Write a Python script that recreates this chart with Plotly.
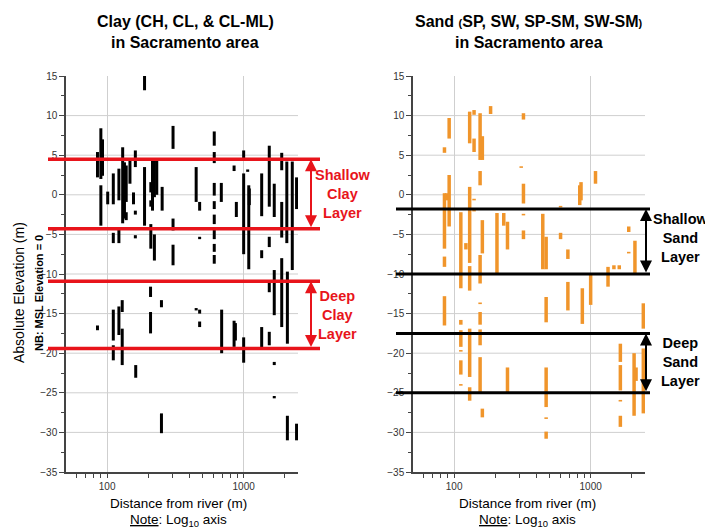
import math
import plotly.graph_objects as go

# ---------------- data ----------------
# Clay borehole intervals: distance from river (m), top / bottom elevation (m)
clay_x = [85, 85, 90, 90, 92.5, 101, 111, 111, 111, 111, 122, 122, 122, 130, 129, 129,
          134, 138, 138, 147, 156, 161, 161, 161, 162, 188, 188, 209, 209, 209, 208, 208,
          215, 222, 222, 231, 253, 250, 250, 304, 304, 304, 449, 476, 449, 476, 476, 476,
          609, 609, 609, 609, 609, 609, 609, 609,
          686, 690, 851, 884, 851, 870, 1000, 1000, 1000, 1090, 1100, 1070, 1355, 1355, 1355,
          1540, 1540, 1540, 1540, 1675, 1675, 1675, 1675, 1900, 1900, 1900, 2070, 2090, 2090,
          2270, 2440, 2440]
clay_top = [5.4, -16.5, 8.4, 1.2, 7.0, 0.4, 2.7, -4.8, -14.5, -19.0, 3.3, -4.3, -14.1, 6.0, -13.3, -16.9,
            4.1, 3.7, -2.2, 4.3, 0.3, 5.6, -2.0, -5.1, -21.5, 15.3, 3.5, 1.6, -0.7, -3.7, -11.6, -14.8,
            4.3, 4.3, -5.0, 4.3, 1.0, -13.3, -27.6, 8.7, -3.0, -6.3, 3.5, -0.9, -14.3, -14.5, -16.0, -5.3,
            8.0, 5.4, 1.5, -0.8, -2.5, -4.4, -6.2, -7.6,
            1.5, -14.5, 3.7, -0.9, -15.9, -16.2, 5.6, 2.7, -18.0, 1.2, 0.8, 3.2, 2.7, -7.0, -16.7,
            6.2, -5.3, -10.8, -17.3, 1.4, -9.5, -21.1, -25.4, 5.3, -0.9, -8.0, 4.2, -9.7, -27.9,
            4.2, 2.2, -28.9]
clay_bottom = [2.2, -17.1, 2.0, -3.9, 2.4, -1.2, -1.2, -6.1, -18.4, -20.9, -0.7, -6.1, -17.7, -3.6, -14.8, -21.5,
               -3.0, -0.9, -3.2, 1.4, -1.2, 3.5, -2.5, -5.5, -23.1, 13.2, -3.9, 0.3, -1.5, -6.8, -12.9, -17.5,
               -2.0, -0.3, -8.3, 0.0, -2.0, -14.2, -30.1, 5.8, -4.5, -8.9, -0.9, -2.0, -14.6, -15.0, -16.7, -5.6,
               6.2, 4.0, -0.1, -1.8, -3.7, -5.6, -7.2, -8.7,
               -0.9, -20.0, 3.0, -2.8, -19.2, -18.4, 4.5, -7.5, -21.2, -9.4, -1.3, 2.9, -2.7, -8.0, -19.6,
               -1.5, -6.6, -12.3, -19.0, -2.8, -15.2, -21.5, -25.7, 3.1, -5.4, -16.7, -6.1, -18.8, -31.0,
               -9.5, -1.8, -31.0]

# Sand borehole intervals
sand_x = [85, 85, 85, 85, 88, 92, 92, 112, 112, 112, 112, 112, 112, 122, 130, 130, 130, 130, 130,
          140, 140, 140, 140, 155, 155, 155, 155, 155, 155, 155, 161, 161, 161, 185, 206, 231, 246, 246,
          310, 322, 322, 322, 322, 446, 472, 472, 472, 472, 472, 602, 602, 681, 681, 832, 850, 869,
          1000, 1085, 1340, 1480, 1620, 1650, 1650, 1650, 1650, 1900, 1900, 2110, 2080, 2150, 2430, 2430]
sand_top = [6.0, 0.2, -7.8, -12.8, 0.2, 9.7, 2.5, -2.2, -15.8, -17.1, -19.6, -20.9, -23.9, -6.1, 10.5, 1.0, -9.0, -16.9, -24.3,
            10.7, 7.1, -0.5, -1.9, 10.3, 3.0, -7.6, -13.6, -14.8, -17.0, -20.5, 7.4, -3.2, -27.0, 11.2, -2.3, -2.3, -3.4, -21.8,
            3.6, 10.3, 1.4, -2.4, -4.5, -2.4, -5.3, -12.9, -21.8, -28.1, -29.9, -1.4, -4.8, -6.9, -11.0, 1.2, 1.6, -11.8,
            -10.1, 3.0, -9.1, -8.9, -8.9, -18.8, -21.5, -25.9, -27.9, -4.0, -7.2, -5.8, -20.0, -21.8, -13.7, -19.4]
sand_bottom = [5.3, -6.8, -9.1, -16.5, -0.7, 7.1, -4.0, -11.8, -16.4, -19.2, -19.8, -22.7, -24.1, -6.9, 6.5, -8.6, -12.1, -23.0, -26.0,
               10.1, 5.4, -0.7, -2.1, 4.4, 1.2, -11.2, -13.8, -16.4, -19.0, -25.1, 4.4, -7.4, -28.1, 10.2, -10.0, -3.9, -6.9, -25.1,
               3.4, 9.5, -1.1, -2.6, -5.6, -9.4, -9.4, -16.1, -26.8, -28.3, -30.8, -1.6, -5.6, -8.1, -14.6, -1.3, -0.7, -16.3,
               -13.9, 1.4, -11.6, -9.4, -9.4, -21.1, -24.7, -26.1, -29.3, -4.7, -7.4, -9.9, -27.9, -23.5, -16.9, -27.6]

# layer boundaries (elevation, m)
clay_shallow = [4.5, -4.3]
clay_deep = [-10.9, -19.4]
sand_shallow = [-1.8, -10.0]
sand_deep = [-17.5, -25.0]

y_ticks = [-35, -30, -25, -20, -15, -10, -5, 0, 5, 10, 15]
y_grid = [-30, -25, -20, -15, -10, -5, 0, 5, 10]
y_minor = [-32.5, -27.5, -22.5, -17.5, -12.5, -7.5, -2.5, 2.5, 7.5, 12.5]
x_ticks = [100, 1000]
x_minor = [60, 70, 80, 90, 200, 300, 400, 500, 600, 700, 800, 900, 2000]

# ---------------- style ----------------
W, H = 705, 528
FONT = "Arial, Liberation Sans, sans-serif"
RED = "#E8141B"
ORANGE = "#F0952B"
AXC = "#444444"


def px(x):
    return x / W


def py(y):
    return 1 - y / H


def segments(xs, tops, bots):
    X, Y = [], []
    for x, t, b in zip(xs, tops, bots):
        X += [x, x, None]
        Y += [t, b, None]
    return X, Y


fig = go.Figure()
cx, cy = segments(clay_x, clay_top, clay_bottom)
sx, sy = segments(sand_x, sand_top, sand_bottom)
fig.add_trace(go.Scatter(x=cx, y=cy, mode="lines", line=dict(color="black", width=3),
                         xaxis="x", yaxis="y", showlegend=False, hoverinfo="skip"))
fig.add_trace(go.Scatter(x=sx, y=sy, mode="lines", line=dict(color=ORANGE, width=3.5),
                         xaxis="x2", yaxis="y2", showlegend=False, hoverinfo="skip"))

ydom = [py(472), py(76)]


def xaxis(dom):
    return dict(domain=dom, type="log", range=[math.log10(50), math.log10(2500)],
                tickvals=x_ticks, ticktext=[str(v) for v in x_ticks],
                ticks="outside", ticklen=4, tickwidth=1, tickcolor=AXC,
                showline=True, linecolor=AXC, linewidth=1.5,
                showgrid=True, gridcolor="#cfcfcf", gridwidth=1, zeroline=False, automargin=False,
                minor=dict(tickvals=x_minor, ticks="outside", ticklen=4, tickcolor=AXC, showgrid=False),
                tickfont=dict(family=FONT, size=10, color="#333"))


def yaxis(anchor):
    return dict(domain=ydom, anchor=anchor, range=[-35, 15],
                tickvals=y_ticks, ticks="outside", ticklen=5, tickwidth=1, tickcolor=AXC,
                showline=True, linecolor=AXC, linewidth=1.5, showgrid=False, zeroline=False,
                automargin=False,
                minor=dict(tickvals=y_minor, ticks="outside", ticklen=3, tickcolor=AXC, showgrid=False),
                tickfont=dict(family=FONT, size=10, color="#333"))


xa1 = xaxis([px(66), px(298)]); xa1["anchor"] = "y"
xa2 = xaxis([px(413), px(645)]); xa2["anchor"] = "y2"

shapes = []
for yref, xref in (("y", "x"), ("y2", "x2")):
    for g in y_grid:
        shapes.append(dict(type="line", xref=f"{xref} domain", yref=yref, x0=0, x1=1, y0=g, y1=g,
                           line=dict(color="#cfcfcf", width=1), layer="below"))

for v in clay_shallow + clay_deep:
    shapes.append(dict(type="line", xref="paper", yref="y", x0=px(48), x1=px(320), y0=v, y1=v,
                       line=dict(color=RED, width=3.5)))
for v in sand_shallow + sand_deep:
    shapes.append(dict(type="line", xref="paper", yref="y2", x0=px(396), x1=px(650), y0=v, y1=v,
                       line=dict(color="black", width=3)))

ann = []


def arrow(xp, yref, a, b, color):
    ann.append(dict(xref="paper", yref=yref, x=px(xp), y=a, axref="pixel", ayref=yref, ax=0, ay=b,
                    showarrow=True, arrowhead=2, arrowside="end+start", arrowsize=1.2, arrowwidth=2,
                    arrowcolor=color, text=""))


arrow(311, "y", clay_shallow[0], clay_shallow[1], RED)
arrow(311, "y", clay_deep[0], clay_deep[1], RED)
arrow(646, "y2", sand_shallow[0], sand_shallow[1], "black")
arrow(646, "y2", sand_deep[0], sand_deep[1], "black")


def label(text, x, y, yref, color, xanchor="center"):
    ann.append(dict(xref="paper", yref=yref, x=px(x), y=y, text=text, showarrow=False,
                    xanchor=xanchor, yanchor="middle", align="center",
                    font=dict(family=FONT, size=14.5, color=color)))


label("<b>Shallow<br>Clay<br>Layer</b>", 343, sum(clay_shallow) / 2 - 0.05, "y", RED)
label("<b>Deep<br>Clay<br>Layer</b>", 337, sum(clay_deep) / 2, "y", RED)
label("<b>Shallow<br>Sand<br>Layer</b>", 651, -5.4, "y2", "black", xanchor="left")
label("<b>Deep<br>Sand<br>Layer</b>", 680, -21.1, "y2", "black")


def ptext(text, x, y, size, **kw):
    d = dict(xref="paper", yref="paper", x=px(x), y=py(y), text=text, showarrow=False,
             xanchor="center", yanchor="middle", font=dict(family=FONT, size=size, color="black"))
    d.update(kw)
    ann.append(d)


ptext("<b>Clay (CH, CL, &amp; CL-ML)</b>", 185, 22, 16)
ptext("<b>in Sacramento area</b>", 185, 42, 16)
ptext("<b>Sand <span style='font-size:11px'>(</span>SP, SW, SP-SM, SW-SM<span style='font-size:11px'>)</span></b>",
      529, 22, 16)
ptext("<b>in Sacramento area</b>", 529, 42, 16)
ptext("Absolute Elevation (m)", 19, 293, 14, textangle=-90)
ptext("<b>NB: MSL Elevation = 0</b>", 39, 293, 11, textangle=-90)
for cxp in (179, 527):
    ptext("Distance from river (m)", cxp, 503, 13.5)
    ptext("<u>Note</u>: Log<sub>10</sub> axis", cxp, 520, 13.5)

fig.update_layout(width=W, height=H, autosize=False, margin=dict(l=0, r=0, t=0, b=0),
                  paper_bgcolor="white", plot_bgcolor="white",
                  xaxis=xa1, yaxis=yaxis("x"), xaxis2=xa2, yaxis2=yaxis("x2"),
                  shapes=shapes, annotations=ann, showlegend=False,
                  font=dict(family=FONT))

fig.write_html("out.html", config={"displayModeBar": False},
               post_script="document.body.style.margin='0';document.body.style.overflow='hidden';")
